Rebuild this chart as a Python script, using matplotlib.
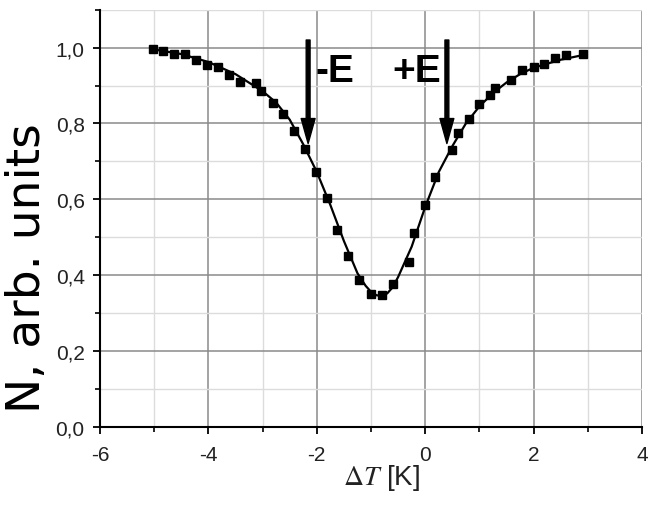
import matplotlib.pyplot as plt
import numpy as np
from matplotlib.ticker import MultipleLocator, FuncFormatter

plt.rcParams['font.family'] = ['Liberation Sans', 'DejaVu Sans']
plt.rcParams['mathtext.fontset'] = 'stix'

# measured points
dT = [-5.03, -4.83, -4.63, -4.43, -4.23, -4.03, -3.82, -3.62, -3.42, -3.12,
      -3.03, -2.81, -2.63, -2.42, -2.21, -2.01, -1.81, -1.62, -1.42, -1.22,
      -1.00, -0.79, -0.60, -0.30, -0.21, -0.01, 0.18, 0.50, 0.60, 0.80,
      1.00, 1.19, 1.29, 1.59, 1.78, 2.00, 2.20, 2.40, 2.60, 2.91]
N = [0.996, 0.992, 0.982, 0.982, 0.967, 0.954, 0.950, 0.928, 0.910, 0.906,
     0.885, 0.855, 0.826, 0.780, 0.732, 0.672, 0.604, 0.518, 0.450, 0.386,
     0.351, 0.348, 0.377, 0.435, 0.512, 0.584, 0.659, 0.729, 0.776, 0.813,
     0.850, 0.876, 0.894, 0.914, 0.941, 0.950, 0.956, 0.972, 0.981, 0.983]

# fitted curve
fit_x = [-5.0, -4.5, -4.0, -3.5, -3.0, -2.75, -2.5, -2.25, -2.0, -1.75,
         -1.5, -1.25, -1.1, -1.0, -0.9, -0.8, -0.7, -0.6, -0.5, -0.25,
         0.0, 0.25, 0.5, 0.75, 1.0, 1.25, 1.5, 1.75, 2.0, 2.5, 2.9]
fit_y = [0.995, 0.983, 0.962, 0.930, 0.885, 0.855, 0.810, 0.745, 0.672, 0.585,
         0.490, 0.405, 0.372, 0.356, 0.347, 0.345, 0.352, 0.368, 0.395, 0.475,
         0.580, 0.672, 0.740, 0.800, 0.845, 0.880, 0.908, 0.930, 0.947, 0.968, 0.980]

arrow_x = [-2.16, 0.40]
arrow_top = 1.02
arrow_tip = 0.747
labels = ['-E', '+E']
label_x = [-1.66, -0.15]
label_y = 0.937

fig = plt.figure(figsize=(6.64, 5.06), dpi=100)
ax = fig.add_axes([0.1506, 0.1545, 0.8163, 0.8244])

ax.plot(fit_x, fit_y, color='black', lw=1.6, zorder=3)
ax.plot(dT, N, 's', color='black', ms=5.5, zorder=4)

for xa in arrow_x:
    ax.annotate('', xy=(xa, arrow_tip), xytext=(xa, arrow_top),
                arrowprops=dict(width=2.8, headwidth=10, headlength=18,
                                color='black', shrink=0), zorder=5)
for lab, xl in zip(labels, label_x):
    ax.text(xl, label_y, lab, fontsize=28, fontweight='bold',
            ha='center', va='center', zorder=5)

ax.set_xlim(-6, 4)
ax.set_ylim(0, 1.1)
ax.xaxis.set_major_locator(MultipleLocator(2))
ax.xaxis.set_minor_locator(MultipleLocator(1))
ax.yaxis.set_major_locator(MultipleLocator(0.2))
ax.yaxis.set_minor_locator(MultipleLocator(0.1))
ax.yaxis.set_major_formatter(FuncFormatter(lambda v, p: f'{v:.1f}'.replace('.', ',')))
ax.xaxis.set_major_formatter(FuncFormatter(lambda v, p: f'{v:.0f}'))

ax.grid(which='major', color='#8a8a8a', lw=1.1)
ax.grid(which='minor', color='#dcdcdc', lw=1.0)
ax.set_axisbelow(True)

for s in ['top', 'right']:
    ax.spines[s].set_visible(False)
for s in ['left', 'bottom']:
    ax.spines[s].set_linewidth(1.5)

ax.tick_params(which='major', length=5, width=1.3, labelsize=15,
               labelcolor='#222222')
ax.tick_params(which='minor', length=3.5, width=1.2)
ax.tick_params(axis='x', which='major', pad=8)
ax.tick_params(axis='y', which='major', pad=6)

ax.set_ylabel('N, arb. units', fontsize=34, family='DejaVu Sans')
ax.yaxis.set_label_coords(-0.092, 0.382)
ax.set_xlabel(r'$\Delta T$ [K]', fontsize=20, color='#222222')
ax.xaxis.set_label_coords(0.52, -0.085)

fig.canvas.draw()
ax.xaxis.get_gridlines()[-1].set_visible(False)

fig.savefig('out.png', dpi=100)
